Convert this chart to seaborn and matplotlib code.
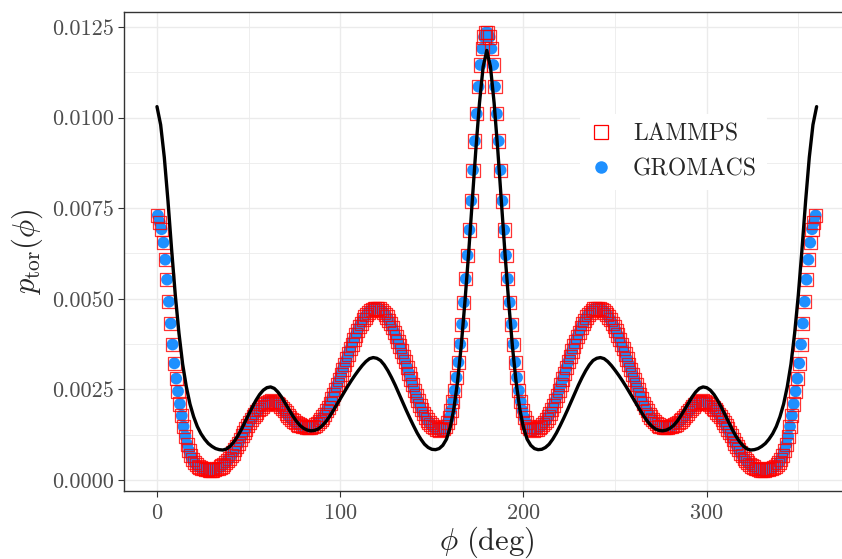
import numpy as np
import matplotlib
matplotlib.use("Agg")
import matplotlib.pyplot as plt
from matplotlib.lines import Line2D
from matplotlib.ticker import FormatStrFormatter, MultipleLocator
import seaborn as sns

# torsion angle grid of the simulation histograms (1 degree bins)
phi_points = np.arange(0.5, 360.0, 1.0)

# LAMMPS histogram
lammps_p = [
    .00730, .00711, .00692, .00655, .00608, .00553, .00492, .00432, .00374, .00322,
    .00280, .00245, .00210, .00178, .00148, .00121, .00099, .00081, .00067, .00056,
    .00048, .00042, .00038, .00035, .00033, .00031, .00030, .00029, .00028, .00028,
    .00028, .00029, .00031, .00033, .00036, .00039, .00043, .00048, .00054, .00060,
    .00067, .00075, .00084, .00093, .00102, .00112, .00122, .00132, .00141, .00150,
    .00159, .00167, .00175, .00182, .00188, .00194, .00199, .00204, .00208, .00212,
    .00215, .00217, .00218, .00217, .00215, .00212, .00208, .00203, .00197, .00191,
    .00185, .00179, .00173, .00168, .00163, .00159, .00155, .00152, .00150, .00148,
    .00147, .00146, .00146, .00146, .00147, .00149, .00152, .00156, .00161, .00167,
    .00174, .00182, .00191, .00201, .00212, .00224, .00237, .00250, .00264, .00278,
    .00292, .00306, .00320, .00334, .00348, .00362, .00375, .00388, .00400, .00412,
    .00423, .00433, .00442, .00450, .00457, .00463, .00468, .00471, .00473, .00474,
    .00473, .00472, .00468, .00463, .00457, .00450, .00441, .00431, .00420, .00408,
    .00396, .00383, .00370, .00356, .00342, .00327, .00311, .00295, .00279, .00263,
    .00248, .00233, .00219, .00206, .00194, .00183, .00174, .00166, .00159, .00153,
    .00148, .00144, .00141, .00139, .00138, .00139, .00142, .00148, .00158, .00172,
    .00192, .00217, .00247, .00283, .00325, .00375, .00430, .00490, .00555, .00620,
    .00690, .00770, .00855, .00935, .01010, .01085, .01145, .01190, .01222, .01234,
    .01234, .01222, .01190, .01145, .01085, .01010, .00935, .00855, .00770, .00690,
    .00620, .00555, .00490, .00430, .00375, .00325, .00283, .00247, .00217, .00192,
    .00172, .00158, .00148, .00142, .00139, .00138, .00139, .00141, .00144, .00148,
    .00153, .00159, .00166, .00174, .00183, .00194, .00206, .00219, .00233, .00248,
    .00263, .00279, .00295, .00311, .00327, .00342, .00356, .00370, .00383, .00396,
    .00408, .00420, .00431, .00441, .00450, .00457, .00463, .00468, .00472, .00473,
    .00474, .00473, .00471, .00468, .00463, .00457, .00450, .00442, .00433, .00423,
    .00412, .00400, .00388, .00375, .00362, .00348, .00334, .00320, .00306, .00292,
    .00278, .00264, .00250, .00237, .00224, .00212, .00201, .00191, .00182, .00174,
    .00167, .00161, .00156, .00152, .00149, .00147, .00146, .00146, .00146, .00147,
    .00148, .00150, .00152, .00155, .00159, .00163, .00168, .00173, .00179, .00185,
    .00191, .00197, .00203, .00208, .00212, .00215, .00217, .00218, .00217, .00215,
    .00212, .00208, .00204, .00199, .00194, .00188, .00182, .00175, .00167, .00159,
    .00150, .00141, .00132, .00122, .00112, .00102, .00093, .00084, .00075, .00067,
    .00060, .00054, .00048, .00043, .00039, .00036, .00033, .00031, .00029, .00028,
    .00028, .00028, .00029, .00030, .00031, .00033, .00035, .00038, .00042, .00048,
    .00056, .00067, .00081, .00099, .00121, .00148, .00178, .00210, .00245, .00280,
    .00322, .00374, .00432, .00492, .00553, .00608, .00655, .00692, .00711, .00730,
]
# GROMACS points sit on top of the LAMMPS ones everywhere at this resolution
gromacs_p = list(lammps_p)

# analytic torsion distribution (black curve), every 2 degrees
phi_line = np.arange(0, 361, 2)
model_p = [
    .01030, .00980, .00890, .00770, .00635, .00510, .00405, .00320, .00258, .00210,
    .00175, .00148, .00128, .00113, .00101, .00093, .00087, .00084, .00083, .00086,
    .00094, .00106, .00121, .00139, .00160, .00181, .00201, .00220, .00236, .00248,
    .00255, .00257, .00253, .00243, .00229, .00212, .00195, .00178, .00163, .00151,
    .00143, .00138, .00136, .00137, .00141, .00149, .00160, .00174, .00190, .00207,
    .00224, .00241, .00258, .00274, .00289, .00303, .00316, .00327, .00335, .00338,
    .00336, .00330, .00318, .00302, .00283, .00262, .00239, .00216, .00193, .00171,
    .00150, .00130, .00113, .00099, .00090, .00085, .00084, .00087, .00096, .00113,
    .00145, .00196, .00270, .00368, .00488, .00620, .00765, .00910, .01040, .01140,
    .01185,
    .01140, .01040, .00910, .00765, .00620, .00488, .00368, .00270, .00196, .00145,
    .00113, .00096, .00087, .00084, .00085, .00090, .00099, .00113, .00130, .00150,
    .00171, .00193, .00216, .00239, .00262, .00283, .00302, .00318, .00330, .00336,
    .00338, .00335, .00327, .00316, .00303, .00289, .00274, .00258, .00241, .00224,
    .00207, .00190, .00174, .00160, .00149, .00141, .00137, .00136, .00138, .00143,
    .00151, .00163, .00178, .00195, .00212, .00229, .00243, .00253, .00257, .00255,
    .00248, .00236, .00220, .00201, .00181, .00160, .00139, .00121, .00106, .00094,
    .00086, .00083, .00084, .00087, .00093, .00101, .00113, .00128, .00148, .00175,
    .00210, .00258, .00320, .00405, .00510, .00635, .00770, .00890, .00980, .01030,
]

x_ticks = [0, 100, 200, 300]
y_ticks = [0.0, 0.0025, 0.005, 0.0075, 0.01, 0.0125]
series_labels = ["LAMMPS", "GROMACS"]

BLUE = "#1E90FF"
RED = "#FF0000"
GRID = "#EBEBEB"
DARK = "#333333"

sns.set_theme(style="whitegrid")
plt.rcParams["font.family"] = "serif"
plt.rcParams["font.serif"] = ["cmr10", "DejaVu Serif"]
plt.rcParams["mathtext.fontset"] = "cm"
plt.rcParams["axes.formatter.use_mathtext"] = True

fig = plt.figure(figsize=(8.42, 5.59), dpi=100)
# panel runs past the right edge of the image, like the reference crop
ax = fig.add_axes([124 / 842, 1 - 491 / 559, (849.6 - 124) / 842, (491 - 12) / 559])
ax.set_facecolor("white")

sns.scatterplot(x=phi_points, y=gromacs_p, marker="o", s=72, color=BLUE,
                edgecolor="none", linewidth=0, ax=ax, zorder=2, legend=False)
sns.scatterplot(x=phi_points, y=lammps_p, marker="s", s=90, color=RED,
                ax=ax, zorder=3, legend=False)
sq = ax.collections[-1]
sq.set_facecolor("none")
sq.set_edgecolor((1, 0, 0, 0.8))
sq.set_linewidth(0.9)

sns.lineplot(x=phi_line, y=model_p, color="black", linewidth=2.4, ax=ax, zorder=4)

ax.set_xlim(-18, 378)
ax.set_ylim(-0.0003, 0.01291)
ax.set_xticks(x_ticks)
ax.set_yticks(y_ticks)
ax.xaxis.set_minor_locator(MultipleLocator(50))
ax.yaxis.set_minor_locator(MultipleLocator(0.00125))
ax.yaxis.set_major_formatter(FormatStrFormatter("%.4f"))

ax.grid(which="major", color=GRID, linewidth=1.0)
ax.grid(which="minor", color=GRID, linewidth=0.6)
ax.set_axisbelow(True)

for side in ["left", "bottom", "top", "right"]:
    ax.spines[side].set_color(DARK)
    ax.spines[side].set_linewidth(1.0)

ax.tick_params(which="major", direction="out", length=4, width=0.8, color=DARK,
               labelsize=16, labelcolor="#4D4D4D", pad=3,
               bottom=True, left=True, top=False, right=False)
ax.tick_params(axis="x", which="major", pad=5)
ax.tick_params(which="minor", length=0)

ax.set_xlabel(r"$\phi\ (\mathrm{deg})$", fontsize=22, labelpad=1)
ax.set_ylabel(r"$p_{\mathrm{tor}}(\phi)$", fontsize=22, labelpad=5)

handles = [
    Line2D([], [], marker="s", linestyle="", markerfacecolor="none",
           markeredgecolor=RED, markeredgewidth=0.9, markersize=9.5),
    Line2D([], [], marker="o", linestyle="", markerfacecolor=BLUE,
           markeredgecolor="none", markersize=9),
]
leg = ax.legend(handles, series_labels, loc="center left",
                bbox_to_anchor=(580 / 842, 1 - 152 / 559),
                bbox_transform=fig.transFigure, fontsize=17, frameon=True,
                facecolor="white", edgecolor="none", framealpha=1,
                borderpad=0.4, borderaxespad=0, handlelength=1.0,
                handletextpad=0.85, labelspacing=0.55)
leg.get_frame().set_linewidth(0)
leg.set_zorder(5)

fig.savefig("out.png", dpi=100)
